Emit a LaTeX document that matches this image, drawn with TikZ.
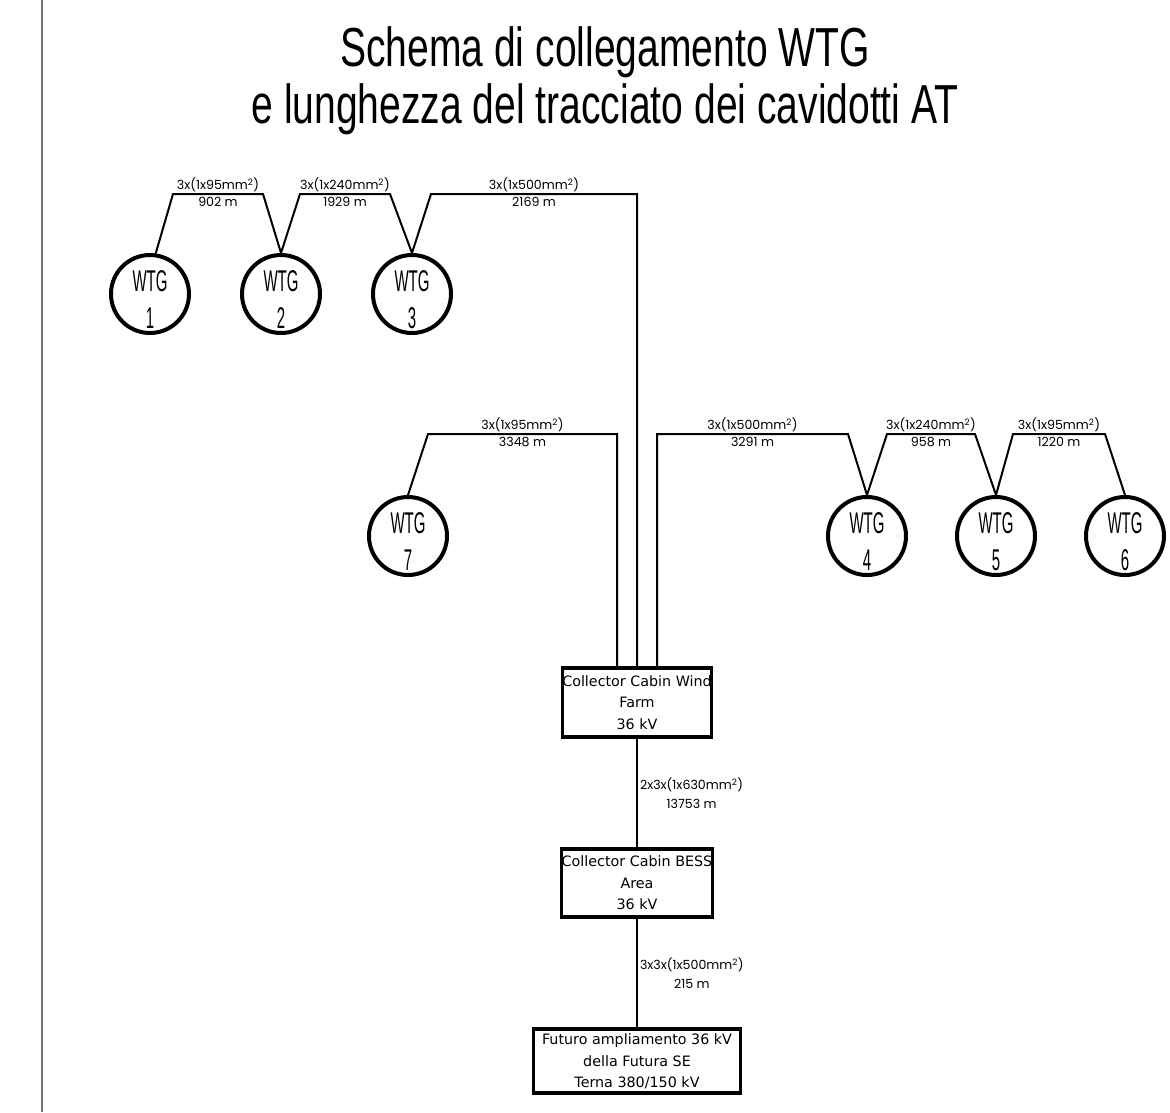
\documentclass[tikz,border=0pt]{standalone}
\usepackage{fontspec}
\setmainfont{DejaVu Sans}
\newfontfamily\titlefont[FakeStretch=0.71]{Liberation Sans}
\newfontfamily\wtgfont[FakeStretch=0.50]{Liberation Sans}
\newfontfamily\cablefont{Poppins}
\usepackage{tikz}
\usetikzlibrary{positioning}
\usetikzlibrary{calc}

\tikzset{
  wtg/.style={draw, circle, line width=4pt, minimum size=78pt, inner sep=0pt, align=center, font=\wtgfont\fontsize{30}{37}\selectfont},
  cabin/.style={draw, rectangle, line width=3.5pt, inner sep=0pt, align=center, font=\fontsize{14.3}{21.5}\selectfont},
  cable/.style={line width=2pt},
  lab/.style={font=\cablefont\fontsize{12.6}{19}\selectfont, inner sep=1pt}
}

\begin{document}
\begin{tikzpicture}[x=1pt, y=-1pt]

  \useasboundingbox (0,0) rectangle (1170,1112);
  \draw[black!55, line width=2pt] (42,0) -- (42,1112);

  \def\cx{637};

	%title
  \node[font=\titlefont\fontsize{55}{57}\selectfont, align=center] (title) at (605,81) {Schema di collegamento WTG\\e lunghezza del tracciato dei cavidotti AT};

	%draw WTG
    \foreach \x/\y/\num in {150/294/1, 281/294/2, 412/294/3, 867/536/4, 996/536/5, 1125/536/6, 408/536/7}{
           \node[wtg] (w\num) at (\x,\y) {\rule{0pt}{32pt}WTG\\\num};
    }

	%cabins
  \node[cabin, minimum width=148pt, minimum height=69pt] (cwf) at (\cx,702.5) {Collector Cabin Wind\\Farm\\36 kV};
  \node[cabin, minimum width=149pt, minimum height=68pt] (bess) at (\cx,883) {Collector Cabin BESS\\Area\\36 kV};
  \node[cabin, minimum width=207pt, minimum height=64pt] (fut) at (\cx,1061) {Futuro ampliamento 36 kV\\della Futura SE\\\smash{Terna 380/150 kV}};

	%bends
    \foreach \name/\x/\y in {t1a/173/194, t1b/263/194, t2a/300/194, t2b/390/194, t3a/431/194, t3b/\cx/194,
                             m7a/428/434, m7b/617/434, m4a/657/434, m4b/848/434, m5a/887/434, m5b/975/434, m6a/1013/434, m6b/1105/434}{
         \coordinate (\name) at (\x,\y);
    }

	%cables between WTG
    \foreach \from/\p/\q/\to/\area/\dist in {w1.82/t1a/t1b/w2.north/95/902, w2.north/t2a/t2b/w3.north/240/1929,
                                             w4.north/m5a/m5b/w5.north/240/958, w5.north/m6a/m6b/w6.north/95/1220}{
         \draw[cable] (\from) -- (\p) -- node[lab, above]{3x(1x\area mm\textsuperscript{2})} node[lab, below, inner sep=2.5pt]{\dist\ m} (\q) -- (\to);
    }

	%cables to cabin
  \draw[cable] (w3.north) -- (t3a) -- node[lab, above]{3x(1x500mm\textsuperscript{2})} node[lab, below, inner sep=2.5pt]{2169 m} (t3b) -- (cwf.north);
  \draw[cable] (w7.north) -- (m7a) -- node[lab, above]{3x(1x95mm\textsuperscript{2})} node[lab, below, inner sep=2.5pt]{3348 m} (m7b) -- (m7b |- cwf.north);
  \draw[cable] (w4.north) -- (m4b) -- node[lab, above]{3x(1x500mm\textsuperscript{2})} node[lab, below, inner sep=2.5pt]{3291 m} (m4a) -- (m4a |- cwf.north);

  \draw[cable] (cwf.south) -- node[lab, right, align=center, inner sep=2pt]{2x3x(1x630mm\textsuperscript{2})\\13753 m} (bess.north);
  \draw[cable] (bess.south) -- node[lab, right, align=center, inner sep=2pt]{3x3x(1x500mm\textsuperscript{2})\\215 m} (fut.north);

\end{tikzpicture}
\end{document}
